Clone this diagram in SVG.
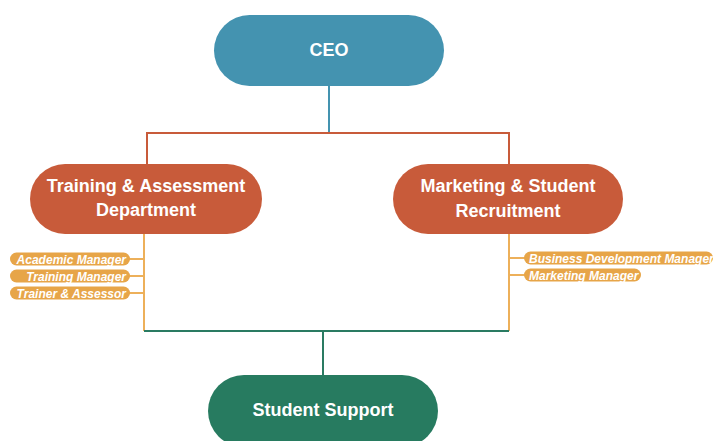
<svg xmlns="http://www.w3.org/2000/svg" width="713" height="441" viewBox="0 0 713 441">
  <style>
    .node-text { font-family: "Liberation Sans", Arial, sans-serif; font-weight: bold; font-size: 18px; fill: #ffffff; text-anchor: middle; }
    .role { fill: #E7A548; }
    .role-text { font-family: "Liberation Sans", Arial, sans-serif; font-weight: bold; font-style: italic; font-size: 12px; fill: #ffffff; }
    .line { fill: none; stroke-width: 2; }
  </style>

  <!-- connectors -->
  <g id="connectors">
    <path class="line" stroke="#4493B0" d="M329 86 V133"/>
    <path class="line" stroke="#C85B3A" d="M147 164 V133 H509 V164"/>
    <path class="line" stroke="#EDB05A" d="M144 234 V331"/>
    <path class="line" stroke="#EDB05A" d="M509 234 V331"/>
    <path class="line" stroke="#EDB05A" d="M129 259 H144 M129 276 H144 M129 293 H144"/>
    <path class="line" stroke="#EDB05A" d="M509 258 H525 M509 275 H525"/>
    <path class="line" stroke="#2A7B62" d="M144 331 H509 M323 331 V376"/>
  </g>

  <g id="ceo">
    <rect x="214" y="15" width="230" height="71" rx="35.5" fill="#4493B0"/>
    <text class="node-text" x="329" y="56">CEO</text>
  </g>

  <g id="training-assessment">
    <rect x="30" y="164" width="232" height="70" rx="35" fill="#C85B3A"/>
    <text class="node-text" x="146" y="192">Training &amp; Assessment</text>
    <text class="node-text" x="146" y="216">Department</text>
  </g>

  <g id="marketing-recruitment">
    <rect x="393" y="164" width="230" height="70" rx="35" fill="#C85B3A"/>
    <text class="node-text" x="508" y="192">Marketing &amp; Student</text>
    <text class="node-text" x="508" y="217">Recruitment</text>
  </g>

  <g id="student-support">
    <rect x="208" y="375" width="230" height="72" rx="36" fill="#277B60"/>
    <text class="node-text" x="323" y="416">Student Support</text>
  </g>

  <g id="academic-manager">
    <rect class="role" x="10" y="252.5" width="120" height="13" rx="6.5"/>
    <text class="role-text" x="126" y="263.5" text-anchor="end">Academic Manager</text>
  </g>
  <g id="training-manager">
    <rect class="role" x="10" y="269.5" width="120" height="13" rx="6.5"/>
    <text class="role-text" x="126" y="280.5" text-anchor="end">Training Manager</text>
  </g>
  <g id="trainer-assessor">
    <rect class="role" x="10" y="286.5" width="120" height="13" rx="6.5"/>
    <text class="role-text" x="126" y="297.5" text-anchor="end">Trainer &amp; Assessor</text>
  </g>

  <g id="business-development-manager">
    <rect class="role" x="524" y="251.5" width="189" height="13" rx="6.5"/>
    <text class="role-text" x="529" y="262.5">Business Development Manager</text>
  </g>
  <g id="marketing-manager">
    <rect class="role" x="524" y="268.5" width="117" height="13" rx="6.5"/>
    <text class="role-text" x="529" y="279.5">Marketing Manager</text>
  </g>
</svg>
